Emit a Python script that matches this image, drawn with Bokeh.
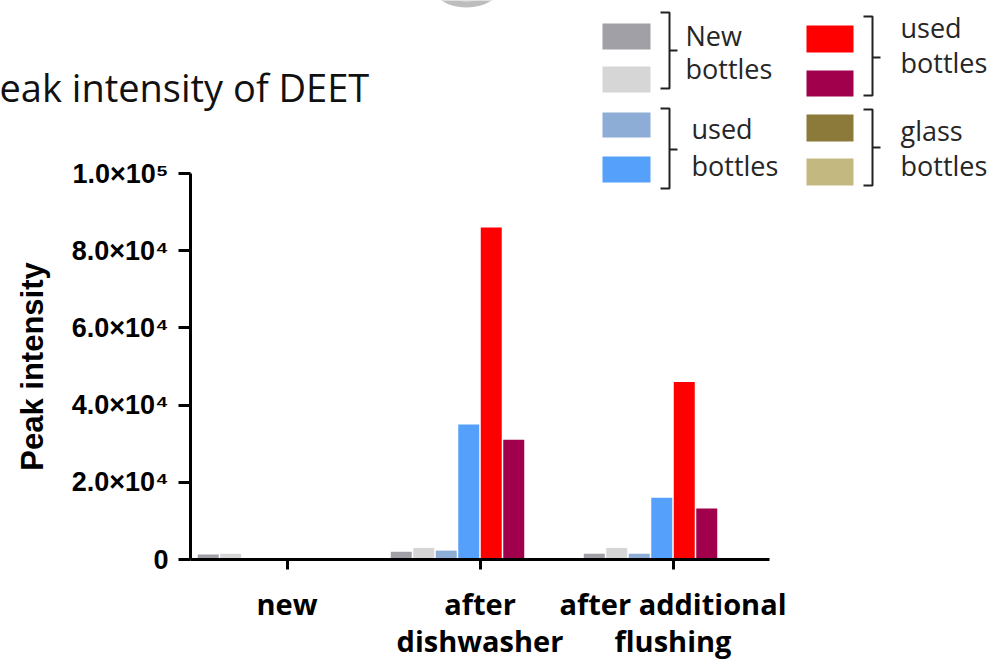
import numpy as np
from bokeh.plotting import figure
from bokeh.models import FixedTicker, Label, Range1d
from bokeh.embed import file_html
from bokeh.resources import INLINE
from bokeh.core.properties import value

# ---------------- data ----------------
categories = ["new", "after\ndishwasher", "after additional\nflushing"]
new_bottles_dark = [1300, 2000, 1500]
new_bottles_light = [1500, 3000, 3000]
used_bottles_grayblue = [0, 2300, 1500]
used_bottles_blue = [0, 35000, 16000]
used_bottles_red = [0, 86000, 46000]
used_bottles_crimson = [0, 31000, 13200]
glass_bottles_olive = [0, 0, 0]
glass_bottles_khaki = [0, 0, 0]
y_ticks = [0, 20000, 40000, 60000, 80000, 100000]
y_tick_labels = ["0", "2.0×10⁴", "4.0×10⁴", "6.0×10⁴", "8.0×10⁴", "1.0×10⁵"]
legend_groups = [("New", "bottles"), ("used", "bottles"), ("used", "bottles"), ("glass", "bottles")]

series = [new_bottles_dark, new_bottles_light, used_bottles_grayblue, used_bottles_blue,
          used_bottles_red, used_bottles_crimson, glass_bottles_olive, glass_bottles_khaki]
colors = ["#a0a0a6", "#d6d6d6", "#8eadd6", "#55a0fa", "#ff0000", "#a0004c", "#8b7a3a", "#c3b880"]

# ---------------- layout ----------------
W, H = 995, 659
AX_LEFT = 190     # px of the y axis
AX_BOTTOM = 559   # px of the x axis
PX = 193.0        # px per category
YPX = 386.0       # px per 1e5
x_start = -0.5 - AX_LEFT / PX
x_end = x_start + W / PX
y_start = -(H - AX_BOTTOM) / YPX * 1e5
y_end = AX_BOTTOM / YPX * 1e5

def dx(sx):  # picture px -> data x
    return x_start + sx / PX

def dy(sy):  # picture px -> data y
    return (AX_BOTTOM - sy) / YPX * 1e5

p = figure(width=W, height=H, output_backend="svg", toolbar_location=None,
           x_range=Range1d(x_start, x_end), y_range=Range1d(y_start, y_end),
           min_border_left=0, min_border_right=0, min_border_top=0,
           min_border_bottom=0)
p.outline_line_color = None
p.xgrid.visible = False
p.ygrid.visible = False
p.background_fill_color = "white"
p.border_fill_color = "white"

# partial grey object cut by the top edge
p.ellipse(x=[dx(466)], y=[dy(-16)], width=70 / PX, height=46 / YPX * 1e5,
          fill_color="#bdbdbd", line_color=None)
p.ellipse(x=[dx(466)], y=[dy(-19)], width=62 / PX, height=40 / YPX * 1e5,
          fill_color="#e6e6e6", line_color=None)

# bars
pitch = 22.5 / PX
bw = 21.0 / PX
cat_idx = np.arange(len(categories))
for i, (vals, col) in enumerate(zip(series, colors)):
    xs = cat_idx + (i - 3.5) * pitch
    p.vbar(x=xs, top=vals, width=bw, bottom=0, fill_color=col, line_color=None)

# axes
for ax in (p.xaxis[0], p.yaxis[0]):
    ax.axis_line_width = 3
    ax.axis_line_color = "black"
    ax.major_tick_line_width = 3
    ax.major_tick_line_color = "black"
    ax.major_tick_in = 0
    ax.minor_tick_line_color = None
    ax.major_label_text_font_style = "bold"
    ax.major_label_text_color = "black"

xa = p.xaxis[0]
xa.fixed_location = 0
xa.bounds = (-0.5, 2.5)
xa.ticker = FixedTicker(ticks=list(range(len(categories))))
xa.major_label_overrides = {i: c for i, c in enumerate(categories)}
xa.major_tick_out = 10
xa.major_label_standoff = 14
xa.major_label_text_font = "Open Sans"
xa.major_label_text_font_size = "29px"
xa.major_label_text_line_height = 0.95

ya = p.yaxis[0]
ya.fixed_location = -0.5
ya.bounds = (0, 100000)
ya.ticker = FixedTicker(ticks=y_ticks)
ya.major_label_overrides = {t: l for t, l in zip(y_ticks, y_tick_labels)}
ya.major_tick_out = 12
ya.major_label_standoff = 10
ya.major_label_text_font = "Liberation Sans"
ya.major_label_text_font_size = "27px"

# y axis title
p.add_layout(Label(x=dx(32), y=dy(366), text="Peak intensity", angle=np.pi / 2,
                   text_align="center", text_baseline="middle",
                   text_font="Liberation Sans", text_font_style="bold",
                   text_font_size="31px", text_color="black"))

# chart title (left part cut off in the original)
p.add_layout(Label(x=dx(-1), y=dy(86), text="eak intensity of DEET",
                   text_align="left", text_baseline="alphabetic",
                   text_font="Open Sans", text_font_size="38px", text_color="#111111"))

# ---------------- legend ----------------
sw_left = [(602, 650, 23, 49), (602, 650, 66, 92), (602, 650, 112, 137), (602, 650, 156, 182)]
sw_right = [(806, 853, 25, 52), (806, 853, 70, 96), (806, 853, 114, 141), (806, 853, 158, 185)]
sw_all = sw_left + sw_right
p.quad(left=[dx(s[0]) for s in sw_all], right=[dx(s[1]) for s in sw_all],
       top=[dy(s[2]) for s in sw_all], bottom=[dy(s[3]) for s in sw_all],
       fill_color=colors, line_color=None)

# brackets: (x0, x1, top, bottom, nub_y)
brackets = [(660, 669, 12, 88, 50), (660, 669, 108, 188, 149),
            (863, 872, 16, 95, 57), (863, 872, 109, 185, 147)]
bxs, bys = [], []
for x0, x1, t, b, m in brackets:
    bxs.append([dx(x0), dx(x1), dx(x1), dx(x0)])
    bys.append([dy(t), dy(t), dy(b), dy(b)])
    bxs.append([dx(x1), dx(x1 + 8)])
    bys.append([dy(m), dy(m)])
p.multi_line(xs=bxs, ys=bys, line_color="#222222", line_width=2)

# legend texts: (x, baseline1, baseline2)
text_pos = [(685, 35, 68), (691, 128, 165), (900, 27, 62), (900, 130, 165)]
tx, ty, tt = [], [], []
for (x, b1, b2), (l1, l2) in zip(text_pos, legend_groups):
    tx += [dx(x), dx(x)]
    ty += [dy(b1), dy(b2)]
    tt += [l1, l2]
p.text(x=tx, y=ty, text=tt, text_font=value("Open Sans"), text_font_size="27px",
       text_align="left", text_baseline="alphabetic", text_color="#262626")

open("out.html", "w").write(file_html(p, INLINE))
